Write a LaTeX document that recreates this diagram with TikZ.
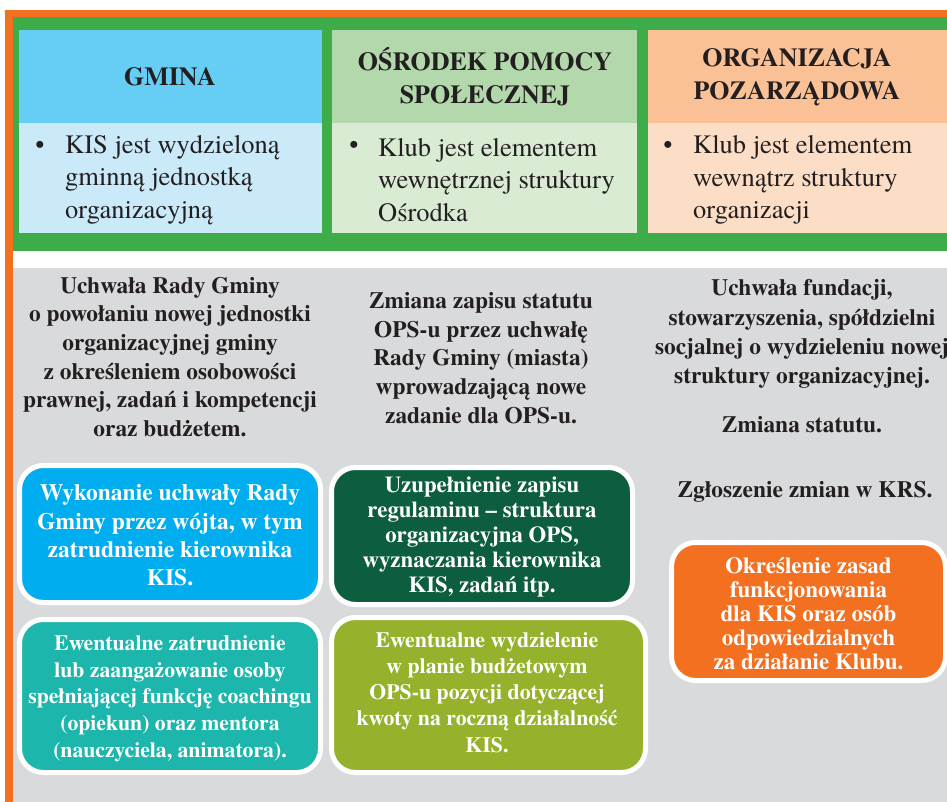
\documentclass[tikz,border=0pt]{standalone}
\usepackage{fontspec}
\setmainfont{TeX Gyre Termes}
\definecolor{orng}{RGB}{243,112,33}
\definecolor{grn}{RGB}{62,173,73}
\definecolor{blueH}{RGB}{102,205,245}
\definecolor{blueB}{RGB}{202,234,250}
\definecolor{grnH}{RGB}{179,216,172}
\definecolor{grnB}{RGB}{217,235,211}
\definecolor{peachH}{RGB}{249,193,149}
\definecolor{peachB}{RGB}{252,221,197}
\definecolor{grayBg}{RGB}{217,218,220}
\definecolor{txt}{RGB}{35,31,32}
\definecolor{boxA}{RGB}{0,174,239}
\definecolor{boxB}{RGB}{29,182,172}
\definecolor{boxC}{RGB}{13,94,62}
\definecolor{boxD}{RGB}{150,177,43}
\definecolor{boxE}{RGB}{243,112,33}
\tikzset{
  headtxt/.style={inner sep=0pt, align=center, text=txt, font=\bfseries\fontsize{26}{33}\selectfont},
  bodytxt/.style={inner sep=0pt, align=left, text=txt, anchor=west, font=\fontsize{26.5}{32.5}\selectfont},
  bullettxt/.style={inner sep=0pt, text=txt, font=\fontsize{26}{32.5}\selectfont},
  graytxt/.style={inner sep=0pt, align=center, text=txt, font=\bfseries\fontsize{23.4}{28.7}\selectfont},
  pill/.style={draw=white, line width=5pt, rounded corners=24pt},
  pilltxt/.style={inner sep=0pt, align=center, text=white, font=\bfseries\fontsize{23.5}{28.3}\selectfont}
}
\begin{document}
\begin{tikzpicture}[x=1pt,y=-1pt]
\useasboundingbox (0,0) rectangle (947,802);
\begin{scope}
\clip (0,0) rectangle (947,802);
% frame
\fill[orng] (5,10) rectangle (950,17);
\fill[orng] (5,10) rectangle (13,805);
\fill[grn] (13,17) rectangle (950,251);
\fill[grayBg] (13,268) rectangle (950,805);
% header boxes
\fill[blueH] (19,30) rectangle (322,123);
\fill[blueB] (19,123) rectangle (322,233);
\fill[grnH] (332,30) rectangle (637,123);
\fill[grnB] (332,123) rectangle (637,233);
\fill[peachH] (648,30) rectangle (950,123);
\fill[peachB] (648,123) rectangle (950,233);
% rounded boxes
\filldraw[pill, fill=boxA] (19.5,465.5) rectangle (320.5,602.5);
\filldraw[pill, fill=boxB] (19.5,619.5) rectangle (320.5,772.5);
\filldraw[pill, fill=boxC] (331.5,467.5) rectangle (632.5,604.5);
\filldraw[pill, fill=boxD] (331.5,617.5) rectangle (645.5,772.5);
\filldraw[pill, fill=boxE] (671.5,542.5) rectangle (945.5,680.5);
\end{scope}
% headers
\node[headtxt] (h1) at (170,77) {GMINA};
\node[headtxt] (h2) at (485,77) {OŚRODEK POMOCY\\SPOŁECZNEJ};
\node[headtxt] (h3) at (797,77) {ORGANIZACJA\\POZARZĄDOWA};
% bodies
\node[bullettxt] (b1) at (40,147) {•};
\node[bodytxt] (t1) at (65,180) {KIS jest wydzieloną\\gminną jednostką\\organizacyjną};
\node[bullettxt] (b2) at (354,147) {•};
\node[bodytxt] (t2) at (378,180) {Klub jest elementem\\wewnętrznej struktury\\Ośrodka};
\node[bullettxt] (b3) at (668,147) {•};
\node[bodytxt] (t3) at (693,180) {Klub jest elementem\\wewnątrz struktury\\organizacji};
% gray texts
\node[graytxt] (g1) at (170,357) {Uchwała Rady Gminy\\o powołaniu nowej jednostki\\organizacyjnej gminy\\z określeniem osobowości\\prawnej, zadań i kompetencji\\oraz budżetem.};
\node[graytxt] (g2) at (481,358) {Zmiana zapisu statutu\\OPS-u przez uchwałę\\Rady Gminy (miasta)\\wprowadzającą nowe\\zadanie dla OPS-u.};
\node[graytxt, font=\bfseries\fontsize{23.4}{29.3}\selectfont] (g3) at (802,334) {Uchwała fundacji,\\stowarzyszenia, spółdzielni\\socjalnej o wydzieleniu nowej\\struktury organizacyjnej.};
\node[graytxt] (g4) at (802,425) {Zmiana statutu.};
\node[graytxt] (g5) at (805,492) {Zgłoszenie zmian w KRS.};
% pill texts
\node[pilltxt] (pA) at (170,535.5) {Wykonanie uchwały Rady\\Gminy przez wójta, w tym\\zatrudnienie kierownika\\KIS.};
\node[pilltxt, font=\bfseries\fontsize{21.7}{26.7}\selectfont] (pB) at (170,698.5) {Ewentualne zatrudnienie\\lub zaangażowanie osoby\\spełniającej funkcję coachingu\\(opiekun) oraz mentora\\(nauczyciela, animatora).};
\node[pilltxt, font=\bfseries\fontsize{22.8}{25}\selectfont] (pC) at (482,537) {Uzupełnienie zapisu\\regulaminu – struktura\\organizacyjna OPS,\\wyznaczania kierownika\\KIS, zadań itp.};
\node[pilltxt, font=\bfseries\fontsize{21.8}{26.2}\selectfont] (pD) at (487,692.5) {Ewentualne wydzielenie\\w planie budżetowym\\OPS-u pozycji dotyczącej\\kwoty na roczną działalność\\KIS.};
\node[pilltxt, font=\bfseries\fontsize{23}{24.2}\selectfont] (pE) at (808.5,613.5) {Określenie zasad\\funkcjonowania\\dla KIS oraz osób\\odpowiedzialnych\\za działanie Klubu.};
\end{tikzpicture}
\end{document}
